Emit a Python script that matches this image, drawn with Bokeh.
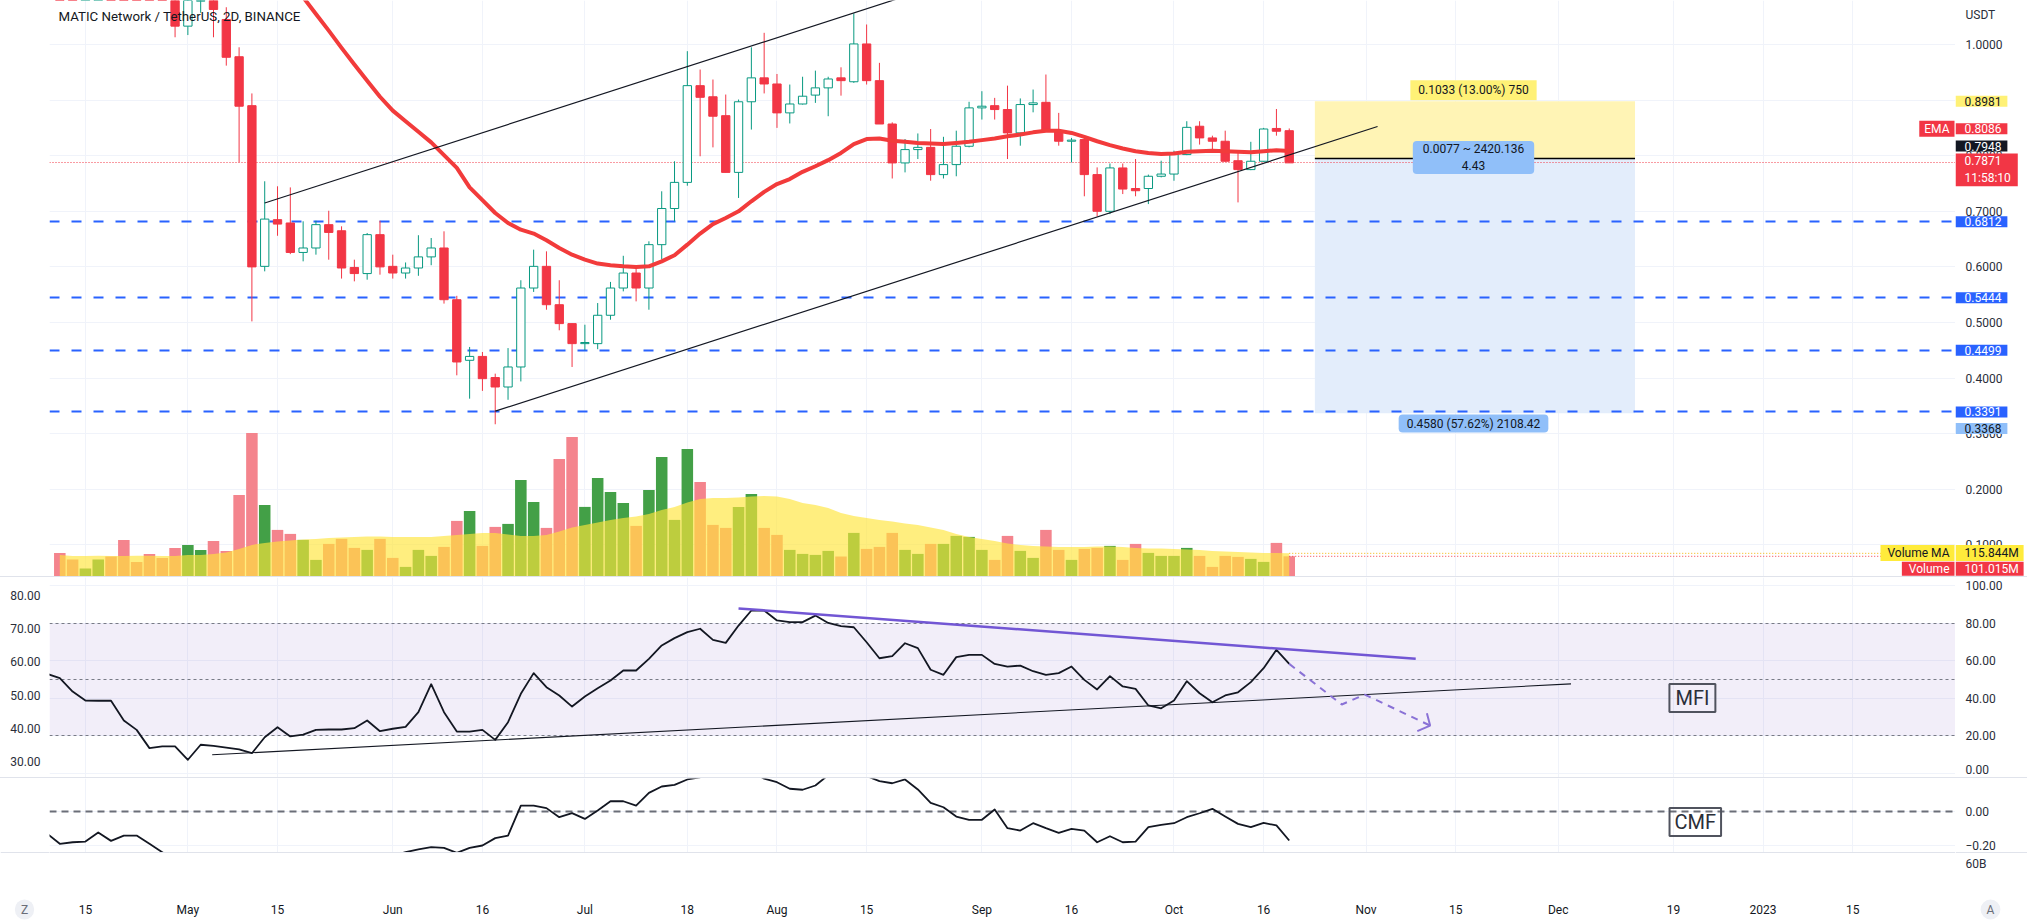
import pandas as pd
from bokeh.plotting import figure
from bokeh.models import (Range1d, LinearAxis, FixedTicker, NumeralTickFormatter, Label,
                          ColumnDataSource, Spacer)
from bokeh.layouts import column, row
from bokeh.core.properties import value
from bokeh.embed import file_html
from bokeh.resources import INLINE

FONT = "Roboto"

# ===================== DATA =====================
symbol_title = "MATIC Network / TetherUS, 2D, BINANCE"
bar_start = "2022-04-11"          # first 2-day bar shown

opens = [1.45, 1.36, 1.33, 1.41, 1.44, 1.37, 1.29, 1.26, 1.15, 1.12,
         1.033, 1.078, 1.12, 1.045, 0.978, 0.890, 0.601, 0.685, 0.679, 0.626,
         0.634, 0.676, 0.665, 0.599, 0.588, 0.658, 0.601, 0.589, 0.598, 0.618,
         0.634, 0.541, 0.432, 0.439, 0.401, 0.384, 0.420, 0.562, 0.601, 0.532,
         0.498, 0.462, 0.462, 0.513, 0.562, 0.589, 0.562, 0.640, 0.705, 0.752,
         0.926, 0.906, 0.872, 0.770, 0.897, 0.940, 0.929, 0.877, 0.893, 0.909,
         0.922, 0.940, 0.933, 1.001, 0.935, 0.857, 0.787, 0.811, 0.815, 0.766,
         0.784, 0.817, 0.886, 0.890, 0.883, 0.841, 0.892, 0.896, 0.845, 0.826,
         0.829, 0.766, 0.700, 0.778, 0.741, 0.741, 0.763, 0.767, 0.802, 0.853,
         0.832, 0.826, 0.791, 0.775, 0.790, 0.849, 0.845]
highs = [1.47, 1.40, 1.43, 1.47, 1.46, 1.38, 1.32, 1.27, 1.18, 1.15,
         1.12, 1.16, 1.14, 1.067, 0.995, 0.912, 0.754, 0.745, 0.743, 0.682,
         0.683, 0.701, 0.673, 0.613, 0.661, 0.683, 0.622, 0.608, 0.657, 0.652,
         0.664, 0.548, 0.456, 0.447, 0.408, 0.454, 0.576, 0.631, 0.628, 0.576,
         0.498, 0.496, 0.535, 0.573, 0.620, 0.599, 0.646, 0.736, 0.790, 0.988,
         0.955, 0.937, 0.910, 0.901, 0.995, 1.021, 0.947, 0.928, 0.942, 0.953,
         0.942, 0.959, 1.056, 1.036, 0.967, 0.860, 0.830, 0.840, 0.848, 0.834,
         0.845, 0.897, 0.916, 0.904, 0.926, 0.903, 0.919, 0.946, 0.877, 0.832,
         0.832, 0.779, 0.786, 0.786, 0.794, 0.766, 0.791, 0.809, 0.862, 0.862,
         0.836, 0.845, 0.806, 0.825, 0.850, 0.884, 0.849]
lows = [1.33, 1.30, 1.32, 1.38, 1.35, 1.26, 1.24, 1.12, 1.09, 1.013,
        1.017, 1.057, 1.013, 0.962, 0.788, 0.502, 0.592, 0.656, 0.623, 0.610,
        0.622, 0.613, 0.579, 0.574, 0.577, 0.586, 0.579, 0.579, 0.584, 0.603,
        0.534, 0.405, 0.363, 0.377, 0.317, 0.361, 0.394, 0.555, 0.523, 0.486,
        0.420, 0.450, 0.452, 0.505, 0.556, 0.538, 0.523, 0.614, 0.682, 0.746,
        0.799, 0.815, 0.770, 0.724, 0.847, 0.912, 0.850, 0.858, 0.892, 0.895,
        0.871, 0.908, 0.931, 0.928, 0.857, 0.759, 0.770, 0.794, 0.755, 0.759,
        0.763, 0.815, 0.865, 0.865, 0.794, 0.818, 0.878, 0.845, 0.818, 0.788,
        0.727, 0.691, 0.695, 0.731, 0.727, 0.713, 0.761, 0.755, 0.801, 0.820,
        0.812, 0.789, 0.716, 0.774, 0.789, 0.836, 0.787]
closes = [1.36, 1.33, 1.41, 1.44, 1.37, 1.29, 1.26, 1.15, 1.12, 1.033,
          1.10, 1.12, 1.063, 0.977, 0.889, 0.600, 0.686, 0.677, 0.626, 0.634,
          0.676, 0.662, 0.598, 0.588, 0.658, 0.600, 0.589, 0.598, 0.618, 0.634,
          0.541, 0.429, 0.439, 0.399, 0.384, 0.420, 0.562, 0.601, 0.532, 0.498,
          0.462, 0.464, 0.513, 0.562, 0.589, 0.562, 0.640, 0.705, 0.752, 0.926,
          0.905, 0.871, 0.770, 0.897, 0.940, 0.929, 0.877, 0.893, 0.907, 0.922,
          0.938, 0.935, 1.001, 0.935, 0.857, 0.787, 0.811, 0.815, 0.766, 0.784,
          0.817, 0.886, 0.889, 0.883, 0.841, 0.892, 0.895, 0.845, 0.826, 0.828,
          0.766, 0.700, 0.778, 0.740, 0.737, 0.763, 0.767, 0.802, 0.851, 0.832,
          0.826, 0.790, 0.775, 0.790, 0.848, 0.844, 0.7871]

volume_m = [118, 85, 40, 85, 100, 183, 73, 113, 92, 143,
            158, 133, 178, 127, 408, 718, 358, 233, 213, 183,
            83, 163, 188, 143, 133, 188, 93, 48, 133, 103,
            148, 278, 328, 153, 248, 263, 483, 373, 243, 588,
            698, 348, 493, 423, 368, 253, 433, 598, 283, 638,
            473, 258, 243, 348, 413, 243, 208, 133, 113, 108,
            128, 100, 218, 138, 148, 218, 133, 113, 163, 163,
            203, 198, 133, 83, 203, 128, 93, 233, 133, 83,
            138, 143, 153, 83, 163, 118, 103, 103, 143, 103,
            48, 103, 98, 88, 73, 168, 101.015]
volume_ma_m = [108, 103, 103, 104, 103, 103, 104, 104, 103, 103,
               107, 108, 112, 120, 137, 158, 167, 175, 180, 185,
               187, 192, 195, 198, 200, 200, 198, 198, 198, 198,
               202, 208, 213, 217, 218, 210, 203, 203, 207, 225,
               245, 257, 270, 282, 292, 300, 312, 332, 348, 370,
               387, 392, 393, 395, 400, 403, 400, 387, 368, 358,
               342, 318, 303, 292, 282, 275, 265, 258, 245, 232,
               212, 198, 187, 178, 165, 157, 152, 150, 148, 148,
               148, 150, 150, 147, 143, 140, 140, 138, 135, 132,
               128, 125, 123, 120, 118, 117, 115.844]

ema_first_bar = 18
ema = [1.12, 1.085, 1.055, 1.025, 0.994, 0.964, 0.935, 0.906, 0.881, 0.862,
       0.843, 0.824, 0.801, 0.778, 0.743, 0.720, 0.697, 0.679, 0.667, 0.660,
       0.648, 0.634, 0.622, 0.613, 0.606, 0.603, 0.601, 0.600, 0.601, 0.610,
       0.621, 0.640, 0.660, 0.677, 0.688, 0.700, 0.718, 0.735, 0.749, 0.758,
       0.771, 0.781, 0.792, 0.805, 0.821, 0.830, 0.831, 0.827, 0.825, 0.823,
       0.822, 0.821, 0.823, 0.825, 0.828, 0.831, 0.835, 0.838, 0.842, 0.845,
       0.845, 0.841, 0.834, 0.826, 0.819, 0.813, 0.808, 0.805, 0.803, 0.804,
       0.807, 0.808, 0.809, 0.808, 0.807, 0.806, 0.808, 0.810, 0.8086]

ind_start = "2022-04-09"   # indicator lines begin one bar before the first candle
mfi = [53.0,
       50.7, 43.6, 38.8, 38.7, 38.7, 28.2, 23.2, 13.5, 14.4, 14.4,
       7.3, 15.3, 14.7, 13.8, 12.8, 10.8, 19.3, 24.6, 19.7, 20.7,
       23.2, 23.4, 23.4, 24.1, 28.2, 22.5, 23.8, 24.8, 32.6, 47.5,
       32.6, 22.3, 22.3, 23.2, 17.9, 27.3, 42.4, 53.4, 45.9, 41.5,
       35.6, 41.0, 45.4, 49.5, 54.8, 54.8, 61.0, 68.1, 72.0, 75.2,
       77.0, 71.1, 69.5, 78.7, 86.7, 86.7, 81.4, 80.5, 80.5, 84.0,
       80.1, 78.4, 77.8, 69.8, 61.3, 62.4, 69.3, 66.7, 55.2, 52.5,
       61.9, 63.1, 63.1, 58.3, 56.9, 57.4, 54.4, 52.5, 53.4, 56.9,
       49.8, 44.7, 51.8, 46.3, 45.0, 36.2, 34.7, 38.8, 49.1, 42.7,
       37.9, 41.5, 43.2, 48.6, 56.0, 65.8, 58.3]
cmf = [-0.13,
       -0.190, -0.181, -0.177, -0.124, -0.173, -0.142, -0.142, -0.190, -0.239,
       -0.29, -0.33, -0.36, -0.38, -0.41, -0.44, -0.47, -0.45, -0.43, -0.41,
       -0.40, -0.38, -0.37, -0.35, -0.33, -0.31, -0.29, -0.26,
       -0.239, -0.223, -0.210, -0.214, -0.243, -0.214, -0.200, -0.157, -0.142,
       0.033, 0.033, 0.018, -0.035, -0.011, -0.045, 0.004, 0.058, 0.058, 0.033,
       0.107, 0.144, 0.154, 0.185, 0.198,
       0.22, 0.25, 0.26, 0.23,
       0.19, 0.169, 0.131, 0.125, 0.15,
       0.21, 0.24, 0.23, 0.205,
       0.175, 0.163, 0.185, 0.127, 0.049, 0.023, -0.031, -0.050, -0.050, 0.010,
       -0.099, -0.113, -0.070, -0.099, -0.126, -0.103, -0.113, -0.181, -0.146, -0.181,
       -0.177, -0.093, -0.080, -0.070, -0.035, -0.012, 0.014, -0.031, -0.074, -0.093,
       -0.068, -0.083, -0.171]

support_levels = [0.6812, 0.5444, 0.4499, 0.3391]
last_close = 0.7871
countdown = "11:58:10"
ema_last = 0.8086
entry_price = 0.7948
stop_price = 0.8981
target_price = 0.3368
position_start = "2022-10-24"
position_end = "2022-12-13"
stop_text = "0.1033 (13.00%) 750"
mid_text = "0.0077 ~ 2420.136\n4.43"
target_text = "0.4580 (57.62%) 2108.42"
volume_ma_text = "115.844M"
volume_text = "101.015M"
pane4_text = "60B"

channel_upper_t, channel_upper_p = ["2022-05-13", "2022-09-30"], [0.715, 1.2352]
channel_lower_t, channel_lower_p = ["2022-06-18", "2022-11-02 19:00"], [0.3405, 0.8525]
mfi_support_t, mfi_support_v = ["2022-05-04 19:00", "2022-12-03"], [9.95, 47.7]
mfi_resist_t, mfi_resist_v = ["2022-07-26", "2022-11-08 18:00"], [87.8, 61.0]
mfi_path_t = ["2022-10-20", "2022-10-28 05:00", "2022-10-31 19:00", "2022-11-11"]
mfi_path_v = [58.3, 36.7, 42.0, 25.5]
mfi_arrow_t = ["2022-11-10 12:00", "2022-11-11", "2022-11-09"]
mfi_arrow_v = [32.1, 25.5, 22.5]

price_ticks = [0.1, 0.2, 0.3, 0.4, 0.5, 0.6, 0.7, 0.8, 0.9, 1.0]
mfi_ticks = [0, 20, 40, 60, 80, 100]
mfi_left_ticks = [30, 40, 50, 60, 70, 80]
cmf_ticks = [-0.2, 0.0]
cmf_tick_labels = ["\u22120.20", "0.00"]
time_tick_dates = ["2022-04-15", "2022-05-01", "2022-05-15", "2022-06-02", "2022-06-16",
                   "2022-07-02", "2022-07-18", "2022-08-01", "2022-08-15", "2022-09-02",
                   "2022-09-16", "2022-10-02", "2022-10-16", "2022-11-01", "2022-11-15",
                   "2022-12-01", "2022-12-19", "2023-01-02", "2023-01-16"]
time_tick_labels = ["15", "May", "15", "Jun", "16", "Jul", "18", "Aug", "15", "Sep",
                    "16", "Oct", "16", "Nov", "15", "Dec", "19", "2023", "15"]

# ===================== LAYOUT (pixels of the 2027 x 923 page) =====================
view_start, view_end = "2022-04-09 09:22", "2023-02-01 01:12"
W = 2027
BL = 49                  # left scale width
FW = 1906                # plotting frame width
BR = W - BL - FW         # right price-scale strip (72)
H1, H2, H3, HB = 576, 200, 74, 71

UP, DOWN = "#089981", "#f23645"
VOL_UP, VOL_DOWN = "#43a047", "#f4848d"
GRID = "#f0f3fa"
TXT = "#131722"
AX_TXT = "#2a2e39"
BLUE = "#2962ff"
LBLUE = "#90bff9"
YEL = "#fff176"
SEP = "#e0e3eb"
DAY = 86400000


def ms(s):
    return pd.Timestamp(s).value / 1e6


def tag(p, text, x, y, bg=None, color="#ffffff", align="left", size="12px",
        pad=(9, 6, 1, 1), radius=0, border=None, bw=1, y_units="screen"):
    p.add_layout(Label(x=x, y=y, x_units="screen", y_units=y_units, text=text,
                       text_font=FONT, text_font_size=size, text_color=color,
                       text_align=align, text_baseline="middle",
                       background_fill_color=bg, border_line_color=border,
                       border_line_width=bw,
                       padding=dict(left=pad[0], right=pad[1], top=pad[2], bottom=pad[3]),
                       border_radius=radius))


def style_axis(ax, standoff=10):
    ax.axis_line_color = None
    ax.major_tick_line_color = None
    ax.minor_tick_line_color = None
    ax.major_tick_out = 0
    ax.major_tick_in = 0
    ax.minor_tick_out = 0
    ax.major_label_text_font = FONT
    ax.major_label_text_font_size = "12px"
    ax.major_label_text_color = AX_TXT
    ax.major_label_standoff = standoff


def clean(p):
    p.outline_line_color = None
    p.background_fill_color = "white"
    p.border_fill_color = "white"
    return p


xr = Range1d(start=ms(view_start), end=ms(view_end))
time_ticks = [ms(d) for d in time_tick_dates]
time_ticker = FixedTicker(ticks=time_ticks)


def pane(width, height, yr, left=BL, bottom=0, xloc=None):
    p = figure(width=width, height=height, x_range=xr, y_range=yr, x_axis_type="datetime",
               x_axis_location=xloc, y_axis_location=None, output_backend="svg",
               toolbar_location=None, min_border_left=left, min_border_right=0,
               min_border_top=0, min_border_bottom=bottom)
    clean(p)
    p.xgrid.ticker = time_ticker
    p.xgrid.grid_line_color = GRID
    p.ygrid.grid_line_color = GRID
    return p


def strip(width, height, yr, free=False):
    s = figure(width=width, height=height, x_range=Range1d(0, width), y_range=yr,
               x_axis_location=None, y_axis_location=None, output_backend="svg",
               toolbar_location=None, min_border_left=0, min_border_right=0,
               min_border_top=0, min_border_bottom=0)
    clean(s)
    s.grid.visible = False
    if free:
        s.frame_align = False
    return s


def scale_text(s, ys, labels, baseline="middle", y_offset=0):
    s.text(x=[10] * len(ys), y=ys, text=labels, text_align="left", text_baseline=baseline,
           y_offset=y_offset, text_font=value(FONT), text_font_size="12px",
           text_color=AX_TXT)


dates = pd.date_range(bar_start, periods=len(closes), freq="2D")
ind_dates = pd.date_range(ind_start, periods=len(mfi), freq="2D")

# ===================== PRICE PANE =====================
price_range = Range1d(0.04317, 1.07914)
p1 = pane(BL + FW, H1, price_range)
p1.ygrid.ticker = FixedTicker(ticks=price_ticks)
p1.extra_y_ranges = {"vol": Range1d(0, H1 * 5.0)}   # 5 M per pixel

up = [c >= o for o, c in zip(opens, closes)]
vsrc = ColumnDataSource(dict(t=dates, v=volume_m, ma=volume_ma_m,
                             col=[VOL_UP if u else VOL_DOWN for u in up]))
p1.vbar(x="t", width=1.8 * DAY, top="v", bottom=0, fill_color="col", line_color=None,
        y_range_name="vol", source=vsrc)
p1.varea(x="t", y1=0, y2="ma", fill_color="#ffe53b", fill_alpha=0.65,
         y_range_name="vol", source=vsrc)
p1.segment(x0=[dates[-1]], x1=[ms(view_end)], y0=[volume_ma_m[-1]], y1=[volume_ma_m[-1]],
           line_color="#f5b400", line_dash="1 2", y_range_name="vol")
p1.segment(x0=[dates[-1]], x1=[ms(view_end)], y0=[volume_m[-1]], y1=[volume_m[-1]],
           line_color=DOWN, line_dash="1 2", y_range_name="vol")

# short position tool
p1.quad(left=[ms(position_start)], right=[ms(position_end)], bottom=[entry_price],
        top=[stop_price], fill_color="#fff4b5", line_color=None)
p1.quad(left=[ms(position_start)], right=[ms(position_end)], bottom=[target_price],
        top=[entry_price], fill_color="#e3edfb", line_color=None)

p1.hspan(y=support_levels, line_color=BLUE, line_width=2, line_dash="10 12")
p1.hspan(y=[last_close], line_color=DOWN, line_width=1, line_dash="1 2")

csrc = ColumnDataSource(dict(
    t=dates, o=opens, h=highs, l=lows, c=closes,
    top=[max(o, c) for o, c in zip(opens, closes)],
    bot=[min(o, c) for o, c in zip(opens, closes)],
    col=[UP if u else DOWN for u in up],
    fill=["#ffffff" if u else DOWN for u in up]))
p1.segment(x0="t", x1="t", y0="l", y1="h", line_color="col", line_width=1, source=csrc)
p1.vbar(x="t", width=1.3 * DAY, top="top", bottom="bot", fill_color="fill",
        line_color="col", line_width=1, source=csrc)

p1.line(x=dates[ema_first_bar:], y=ema, line_color="#f23b3b", line_width=4,
        line_join="round", line_cap="round")

p1.line(x=[ms(t) for t in channel_upper_t], y=channel_upper_p, line_color=TXT, line_width=1.2)
p1.line(x=[ms(t) for t in channel_lower_t], y=channel_lower_p, line_color=TXT, line_width=1.2)
p1.segment(x0=[ms(position_start)], x1=[ms(position_end)], y0=[entry_price],
           y1=[entry_price], line_color="#000000", line_width=1.5)

# texts inside the price frame (screen y measured from the frame bottom)
tag(p1, symbol_title, 58 - BL, H1 - 16, color=TXT, size="13.3px", pad=(0, 0, 0, 0))
tag(p1, "EMA", FW - 1, H1 - 128.3, bg=DOWN, align="right", pad=(5, 5, 1, 1))
tag(p1, "Volume MA", FW - 1, H1 - 552.5, bg="#ffeb3b", color=TXT, align="right",
    pad=(7, 5, 1, 1))
tag(p1, "Volume", FW - 1, H1 - 568.3, bg=DOWN, align="right", pad=(7, 5, 0, 0))
tag(p1, stop_text, 1473 - BL, H1 - 89.7, bg=YEL, color=TXT, align="center", pad=(8, 8, 3, 3))
tag(p1, mid_text, 1473 - BL, H1 - 157, bg=LBLUE, color=TXT, align="center",
    pad=(10, 10, 1, 1), radius=4)
tag(p1, target_text, 1473 - BL, H1 - 423, bg=LBLUE, color=TXT, align="center",
    pad=(8, 8, 2, 2), radius=4)

# right price scale
s1 = strip(BR, H1, price_range)
scale_text(s1, price_ticks, [f"{t:.4f}" for t in price_ticks])
tag(s1, "USDT", 10, H1 - 14, color=AX_TXT, pad=(0, 0, 0, 0))
tag(s1, f"{stop_price:.4f}", 0, stop_price, bg=YEL, color=TXT, y_units="data")
tag(s1, f"{ema_last:.4f}", 0, H1 - 128.3, bg=DOWN)
tag(s1, f"{entry_price:.4f}", 0, H1 - 145.5, bg=TXT)
tag(s1, f"{last_close:.4f}\n{countdown}", 0, H1 - 169.3, bg=DOWN, pad=(9, 7, 1, 1))
for lv in support_levels:
    tag(s1, f"{lv:.4f}", 0, lv, bg=BLUE, y_units="data")
tag(s1, f"{target_price:.4f}", 0, H1 - 428, bg=LBLUE, color=TXT)
tag(s1, volume_ma_text, 0, H1 - 552.5, bg="#ffeb3b", color=TXT, pad=(9, 5, 1, 1))
tag(s1, volume_text, 0, H1 - 568.3, bg=DOWN, pad=(9, 5, 0, 0))

# ===================== MFI PANE =====================
mfi_range = Range1d(-2.128, 104.26)
p2 = pane(BL + FW, H2, mfi_range)
p2.ygrid.ticker = FixedTicker(ticks=mfi_ticks)
p2.extra_y_ranges = {"left": Range1d(25.18, 85.42)}
left_ax = LinearAxis(y_range_name="left", ticker=FixedTicker(ticks=mfi_left_ticks),
                     formatter=NumeralTickFormatter(format="0.00"))
style_axis(left_ax, standoff=9)
p2.add_layout(left_ax, "left")

p2.hstrip(y0=[20], y1=[80], fill_color="#7e57c2", fill_alpha=0.1, line_color=None)
p2.hspan(y=[80, 50, 20], line_color="#787b86", line_width=1, line_dash="3 3")
p2.line(x=ind_dates, y=mfi, line_color=TXT, line_width=1.8, line_join="round")
p2.line(x=[ms(t) for t in mfi_support_t], y=mfi_support_v, line_color=TXT, line_width=1.1)
p2.line(x=[ms(t) for t in mfi_resist_t], y=mfi_resist_v, line_color="#7256d4", line_width=2.5)
p2.line(x=[ms(t) for t in mfi_path_t], y=mfi_path_v, line_color="#8a72d6",
        line_width=2, line_dash="7 6")
p2.line(x=[ms(t) for t in mfi_arrow_t], y=mfi_arrow_v, line_color="#8a72d6", line_width=2)
tag(p2, "MFI", 1691.9 - BL, 777 - 697.5, color="#2a2e39", align="center", size="20px",
    pad=(6, 6, 2, 2), border="#50535e", bw=2)

s2 = strip(BR, H2, mfi_range)
scale_text(s2, mfi_ticks[1:], [f"{t:.2f}" for t in mfi_ticks[1:]])
scale_text(s2, mfi_ticks[:1], [f"{t:.2f}" for t in mfi_ticks[:1]], baseline="bottom",
           y_offset=1)

# ===================== CMF PANE (+ time scale) =====================
cmf_range = Range1d(-0.2408, 0.1907)
p3 = pane(FW, H3 + HB, cmf_range, left=0, bottom=HB, xloc="below")
p3.ygrid.ticker = FixedTicker(ticks=cmf_ticks)
xa = p3.xaxis[0]
style_axis(xa, standoff=50)
xa.ticker = time_ticker
xa.major_label_overrides = {t: lab for t, lab in zip(time_ticks, time_tick_labels)}
xa.axis_line_color = SEP
xa.major_label_text_color = TXT

p3.hspan(y=[0.0], line_color="#6b6e78", line_width=2, line_dash="7 5")
p3.line(x=ind_dates, y=cmf, line_color=TXT, line_width=1.8, line_join="round")
tag(p3, "CMF", 1694.8 - BL, 852 - 821.4, color="#2a2e39", align="center", size="20px",
    pad=(5, 5, 2, 2), border="#50535e", bw=2)

# right scale of the CMF pane, extended over the time-scale row
cmf_px = (0.1907 + 0.2408) / H3
s3 = strip(BR, H3 + HB, Range1d(-0.2408 - HB * cmf_px, 0.1907), free=True)
scale_text(s3, cmf_ticks, cmf_tick_labels)
s3.hspan(y=[-0.2408], line_color=SEP, line_width=1)
tag(s3, pane4_text, 10, 923 - 863, color=AX_TXT, pad=(0, 0, 0, 0))
tag(s3, "A", 1990 - (BL + FW), 923 - 909, bg="#eef0f5", color="#6a6d78", align="center",
    pad=(6, 6, 3, 3), radius=10)

# left corner under the MFI scale
l3 = strip(BL, H3 + HB, Range1d(0, H3 + HB), free=True)
l3.hspan(y=[HB], line_color=SEP, line_width=1)
tag(l3, "Z", 24, 923 - 909, bg="#eef0f5", color="#6a6d78", align="center",
    pad=(6, 6, 3, 3), radius=10)


def sep():
    return Spacer(width=W, height=1, styles={"background-color": SEP})


layout = column(row(p1, s1, spacing=0), sep(),
                row(p2, s2, spacing=0), sep(),
                row(l3, p3, s3, spacing=0), spacing=0)
open("out.html", "w").write(file_html(layout, INLINE))
